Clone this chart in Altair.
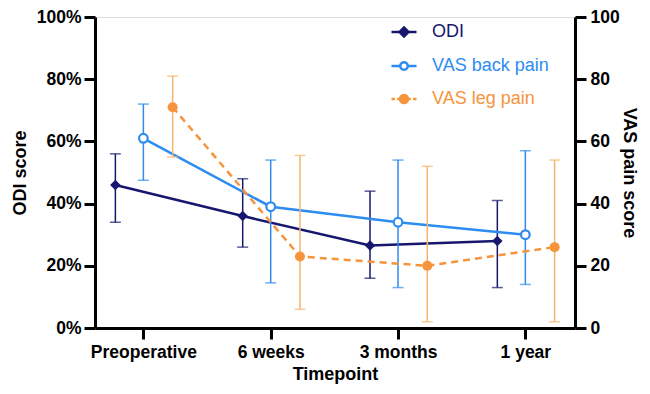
import json
import altair as alt
import pandas as pd

timepoints = ["Preoperative", "6 weeks", "3 months", "1 year"]
series_names = ["ODI", "VAS back pain", "VAS leg pain"]

odi_mean = [46, 36, 26.5, 28]
odi_hi = [56, 48, 44, 41]
odi_lo = [34, 26, 16, 13]

back_mean = [61, 39, 34, 30]
back_hi = [72, 54, 54, 57]
back_lo = [47.5, 14.5, 13, 14]

leg_mean = [71, 23, 20, 26]
leg_hi = [81, 55.5, 52, 54]
leg_lo = [55, 6, 2, 2]

NAVY = "#17176f"
BLUE = "#2d8cf0"
ORANGE = "#f5943a"
ORANGE_ERR = "#f6b56e"
FONT = "Liberation Sans"

offsets = {"ODI": -0.22, "VAS back pain": 0.0, "VAS leg pain": 0.23}
vals = {
    "ODI": (odi_mean, odi_lo, odi_hi),
    "VAS back pain": (back_mean, back_lo, back_hi),
    "VAS leg pain": (leg_mean, leg_lo, leg_hi),
}
rows = []
for s in series_names:
    m, lo, hi = vals[s]
    for i, t in enumerate(timepoints):
        rows.append({"series": s, "time": t, "idx": i, "xpos": i + offsets[s],
                     "mean": m[i], "lo": lo[i], "hi": hi[i]})
df = pd.DataFrame(rows)

label_expr = json.dumps(timepoints) + "[datum.value]"
xscale = alt.Scale(domain=[-0.38, 3.39], nice=False, zero=False)
xaxis = alt.Axis(values=[0, 1, 2, 3], labelExpr=label_expr, title="Timepoint",
                 grid=False, domainWidth=3, domainColor="black", tickWidth=3,
                 tickColor="black", tickSize=11, labelPadding=4,
                 labelFont=FONT, labelFontSize=17.5, labelFontWeight="bold",
                 labelColor="black", titleFont=FONT, titleFontSize=18,
                 titleFontWeight="bold", titleColor="black", titlePadding=5)

yscale = alt.Scale(domain=[0, 100], nice=False)

def yaxis(orient, title):
    kw = dict(values=[0, 20, 40, 60, 80, 100], orient=orient, title=title, grid=False,
              domainWidth=3, domainColor="black", tickWidth=3, tickColor="black",
              tickSize=11, labelFont=FONT, labelFontSize=17.5,
              labelFontWeight="bold", labelColor="black", titleFont=FONT,
              titleFontSize=18, titleFontWeight="bold", titleColor="black")
    if orient == "left":
        kw["labelExpr"] = "datum.value + '%'"
        kw["labelPadding"] = 3
        kw["titlePadding"] = 7
    else:
        kw["labelPadding"] = 4
        kw["titlePadding"] = 0
    return alt.Axis(**kw)


def series_layers(name, color, errcolor, shape, filled, size, dash, axis, ytitle):
    src = alt.Chart(df).transform_filter(alt.datum.series == name)
    x = alt.X("xpos:Q", scale=xscale, axis=xaxis)
    def y(field):
        return alt.Y(f"{field}:Q", scale=yscale, axis=axis, title=ytitle)
    rule = src.mark_rule(color=errcolor, strokeWidth=1.5).encode(x=x, y=y("lo"), y2="hi:Q")
    cap_hi = src.mark_tick(orient="horizontal", color=errcolor, thickness=1.5, size=11).encode(x=x, y=y("hi"))
    cap_lo = src.mark_tick(orient="horizontal", color=errcolor, thickness=1.5, size=11).encode(x=x, y=y("lo"))
    line_kw = dict(color=color, strokeWidth=2.5)
    if dash:
        line_kw["strokeDash"] = dash
    line = src.mark_line(**line_kw).encode(x=x, y=y("mean"))
    pt = src.mark_point(shape=shape, filled=filled, size=size, color=color,
                        fill=color if filled else "white", strokeWidth=2.2,
                        opacity=1).encode(x=x, y=y("mean"))
    return [rule, cap_hi, cap_lo, line, pt]


left_axis = yaxis("left", "ODI score")
right_axis = yaxis("right", "VAS pain score")

odi = series_layers("ODI", NAVY, NAVY, "diamond", True, 110, None, left_axis, "ODI score")
back = series_layers("VAS back pain", BLUE, BLUE, "circle", False, 75, None, right_axis, "VAS pain score")
leg = series_layers("VAS leg pain", ORANGE, ORANGE_ERR, "circle", True, 100, [7, 5], right_axis, "VAS pain score")

sym_paths = [
    "M-1,0L1,0M0,-0.36L0.36,0L0,0.36L-0.36,0Z",
    "M-1,0L-0.3,0M0.3,0L1,0M0.3,0A0.3,0.3 0 1,1 -0.3,0A0.3,0.3 0 1,1 0.3,0Z",
    "M-1,0L-0.72,0M-0.55,0L-0.3,0M0.3,0L0.55,0M0.72,0L1,0M0.32,0A0.32,0.32 0 1,1 -0.32,0A0.32,0.32 0 1,1 0.32,0Z",
]
label_color_expr = ("datum.label == 'ODI' ? '%s' : (datum.label == 'VAS back pain' ? '%s' : '%s')"
                    % (NAVY, BLUE, ORANGE))
legend = alt.Legend(title=None, orient="none", legendX=295, legendY=1, padding=0,
                    labelFont=FONT, labelFontSize=18, labelOffset=14,
                    labelColor={"expr": label_color_expr}, symbolStrokeWidth=2.5,
                    symbolOpacity=1, symbolSize=625, rowPadding=10, labelLimit=300)
legend_layer = alt.Chart(df).transform_filter(alt.datum.idx == 0).mark_point(
    size=625, opacity=0, strokeWidth=2.5, filled=False
).encode(
    x=alt.X("xpos:Q", scale=xscale, axis=xaxis),
    y=alt.Y("mean:Q", scale=yscale, axis=right_axis, title="VAS pain score"),
    color=alt.Color("series:N", scale=alt.Scale(domain=series_names, range=[NAVY, BLUE, ORANGE]), legend=legend),
    shape=alt.Shape("series:N", scale=alt.Scale(domain=series_names, range=sym_paths), legend=legend),
    fill=alt.Fill("series:N", scale=alt.Scale(domain=series_names, range=[NAVY, "white", ORANGE]), legend=legend),
)

left = alt.layer(*odi)
right = alt.layer(*back, *leg, legend_layer)

chart = alt.layer(left, right).resolve_scale(y="independent").resolve_axis(y="independent").properties(
    width=480, height=311,
    autosize=alt.AutoSizeParams(type="none"),
    padding={"left": 87, "top": 9, "right": 67, "bottom": 58},
).configure_view(stroke=None).configure(background="white")

chart.save("out.html", embed_options={"renderer": "svg", "actions": False})
